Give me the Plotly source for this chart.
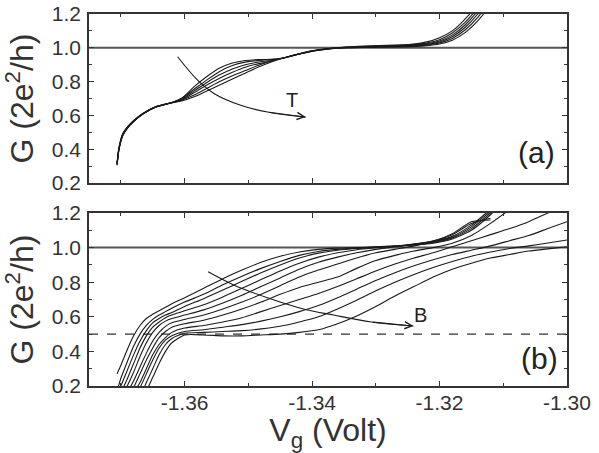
import plotly.graph_objects as go

FONT = "Liberation Sans, Arial, sans-serif"

# ---------------- data ----------------
x_range = [-1.375, -1.30]
x_tickvals = [-1.36, -1.34, -1.32, -1.30]
x_ticktext = ["-1.36", "-1.34", "-1.32", "-1.30"]
G_PLATEAU = 1.0
G_HALF = 0.5

# panel (a): temperature series
xa = [-1.3706, -1.3703, -1.3697, -1.3690, -1.3680, -1.3665, -1.3645, -1.3625,
      -1.3605, -1.3585, -1.3565, -1.3545, -1.3525, -1.3505, -1.3485, -1.3465,
      -1.3445, -1.3420, -1.3395, -1.3370, -1.3345, -1.3320, -1.3295, -1.3270,
      -1.3245, -1.3220, -1.3200, -1.3180, -1.3160, -1.3140, -1.3120]
Ga0 = [0.305, 0.395, 0.480, 0.522, 0.563, 0.609, 0.650, 0.670, 0.700, 0.770, 0.830, 0.880, 0.910, 0.925, 0.930, 0.932,
       0.940, 0.963, 0.983, 0.995, 1.000, 1.002, 1.003, 1.005, 1.007, 1.012, 1.022, 1.045, 1.090, 1.160, 1.250]
Ga1 = [0.308, 0.398, 0.483, 0.524, 0.564, 0.610, 0.650, 0.670, 0.700, 0.755, 0.810, 0.860, 0.895, 0.915, 0.925, 0.930,
       0.940, 0.963, 0.983, 0.995, 1.001, 1.003, 1.005, 1.007, 1.010, 1.016, 1.028, 1.055, 1.105, 1.180, 1.280]
Ga2 = [0.310, 0.400, 0.485, 0.525, 0.565, 0.610, 0.650, 0.670, 0.695, 0.745, 0.795, 0.840, 0.875, 0.900, 0.915, 0.925,
       0.940, 0.964, 0.984, 0.996, 1.002, 1.005, 1.007, 1.009, 1.013, 1.020, 1.034, 1.065, 1.120, 1.200, 1.310]
Ga3 = [0.312, 0.403, 0.487, 0.527, 0.566, 0.611, 0.651, 0.670, 0.690, 0.735, 0.780, 0.820, 0.855, 0.885, 0.905, 0.920,
       0.940, 0.964, 0.984, 0.996, 1.003, 1.006, 1.009, 1.012, 1.016, 1.024, 1.040, 1.075, 1.135, 1.220, 1.340]
Ga4 = [0.315, 0.406, 0.490, 0.529, 0.568, 0.612, 0.651, 0.671, 0.690, 0.720, 0.760, 0.800, 0.835, 0.865, 0.895, 0.920,
       0.940, 0.965, 0.985, 0.997, 1.004, 1.008, 1.011, 1.014, 1.018, 1.028, 1.048, 1.088, 1.150, 1.240, 1.370]
Ga5 = [0.318, 0.410, 0.493, 0.531, 0.570, 0.613, 0.652, 0.671, 0.685, 0.710, 0.745, 0.780, 0.815, 0.850, 0.885, 0.915,
       0.940, 0.965, 0.985, 0.997, 1.005, 1.010, 1.013, 1.016, 1.020, 1.035, 1.060, 1.100, 1.170, 1.260, 1.400]
Ga = [Ga0, Ga1, Ga2, Ga3, Ga4, Ga5]

# panel (b): magnetic field series
xb = [-1.3706, -1.3700, -1.3690, -1.3680, -1.3670, -1.3660, -1.3650, -1.3640,
      -1.3630, -1.3620, -1.3600, -1.3570, -1.3540, -1.3510, -1.3480, -1.3450,
      -1.3420, -1.3390, -1.3360, -1.3330, -1.3300, -1.3270, -1.3240, -1.3210,
      -1.3180, -1.3150, -1.3120, -1.3090, -1.3060, -1.3030, -1.3000]
N = None
Gb0 = [0.27, 0.32, 0.41, 0.49, 0.55, 0.59, 0.615, 0.635, 0.655, 0.675, 0.71, 0.765, 0.82, 0.87, 0.915, 0.95,
       0.975, 0.99, 0.997, 1.0, 1.005, 1.01, 1.015, 1.025, 1.05, 1.10, 1.19, 1.30, N, N, N]
Gb1 = [0.17, 0.245, 0.34, 0.43, 0.50, 0.55, 0.585, 0.61, 0.63, 0.65, 0.685, 0.73, 0.785, 0.835, 0.88, 0.92,
       0.955, 0.978, 0.99, 0.997, 1.003, 1.008, 1.015, 1.028, 1.055, 1.11, 1.20, 1.30, N, N, N]
Gb2 = [N, 0.20, 0.29, 0.38, 0.46, 0.52, 0.565, 0.59, 0.61, 0.625, 0.66, 0.705, 0.755, 0.805, 0.855, 0.90,
       0.94, 0.968, 0.985, 0.995, 1.002, 1.008, 1.017, 1.032, 1.06, 1.12, 1.21, 1.30, N, N, N]
Gb3 = [N, 0.16, 0.24, 0.33, 0.42, 0.49, 0.54, 0.57, 0.595, 0.61, 0.635, 0.67, 0.715, 0.765, 0.815, 0.865,
       0.91, 0.945, 0.97, 0.988, 0.999, 1.008, 1.02, 1.036, 1.065, 1.13, 1.22, 1.30, N, N, N]
Gb4 = [N, 0.13, 0.20, 0.28, 0.37, 0.45, 0.51, 0.55, 0.575, 0.59, 0.61, 0.64, 0.68, 0.725, 0.775, 0.825,
       0.875, 0.915, 0.945, 0.97, 0.99, 1.005, 1.02, 1.04, 1.075, 1.14, 1.17, N, N, N, N]
Gb5 = [N, N, 0.16, 0.23, 0.31, 0.39, 0.46, 0.51, 0.545, 0.565, 0.585, 0.61, 0.645, 0.685, 0.73, 0.78,
       0.83, 0.87, 0.905, 0.94, 0.97, 0.99, 1.01, 1.035, 1.08, 1.15, 1.16, N, N, N, N]
Gb6 = [N, N, 0.12, 0.19, 0.27, 0.35, 0.42, 0.48, 0.515, 0.54, 0.56, 0.58, 0.61, 0.645, 0.685, 0.73,
       0.77, 0.80, 0.83, 0.88, 0.925, 0.955, 0.98, 1.0, 1.025, 1.07, 1.14, 1.22, N, N, N]
Gb7 = [N, N, N, 0.16, 0.22, 0.30, 0.38, 0.44, 0.48, 0.51, 0.535, 0.55, 0.57, 0.595, 0.63, 0.665,
       0.70, 0.735, 0.775, 0.82, 0.865, 0.905, 0.94, 0.97, 1.005, 1.04, 1.075, 1.11, 1.15, 1.20, 1.25]
Gb8 = [N, N, N, 0.13, 0.19, 0.27, 0.35, 0.42, 0.465, 0.49, 0.515, 0.525, 0.54, 0.555, 0.575, 0.60,
       0.63, 0.665, 0.71, 0.76, 0.81, 0.855, 0.895, 0.93, 0.96, 0.985, 1.01, 1.04, 1.07, 1.11, 1.15]
Gb9 = [N, N, N, 0.09, 0.14, 0.22, 0.30, 0.38, 0.44, 0.475, 0.505, 0.51, 0.515, 0.52, 0.53, 0.545,
       0.57, 0.60, 0.645, 0.695, 0.75, 0.80, 0.845, 0.885, 0.92, 0.95, 0.975, 0.995, 1.01, 1.027, 1.044]
Gb10 = [N, N, N, 0.05, 0.10, 0.17, 0.25, 0.33, 0.40, 0.45, 0.495, 0.495, 0.49, 0.49, 0.495, 0.50,
        0.51, 0.525, 0.56, 0.605, 0.66, 0.72, 0.775, 0.83, 0.875, 0.91, 0.94, 0.96, 0.98, 0.993, 1.005]
Gb = [Gb0, Gb1, Gb2, Gb3, Gb4, Gb5, Gb6, Gb7, Gb8, Gb9, Gb10]

# guide arrows
arrowT_x = [-1.3611, -1.3580, -1.3554, -1.3512, -1.3470, -1.3410]
arrowT_y = [0.947, 0.810, 0.730, 0.660, 0.620, 0.590]
arrowB_x = [-1.3563, -1.3523, -1.3470, -1.3418, -1.3366, -1.3307, -1.3241]
arrowB_y = [0.860, 0.784, 0.710, 0.650, 0.610, 0.570, 0.547]
labelT = (-1.3431, 0.69)
labelB = (-1.3230, 0.61)

# ---------------- figure ----------------
LINE = "#1a1a1a"
AX = "#333333"
fig = go.Figure()

for g in Ga:
    fig.add_trace(go.Scatter(x=xa, y=g, mode="lines", xaxis="x", yaxis="y",
                             line=dict(color=LINE, width=1.1, shape="spline", smoothing=0.6),
                             showlegend=False, hoverinfo="skip"))
for g in Gb:
    fig.add_trace(go.Scatter(x=xb, y=g, mode="lines", xaxis="x2", yaxis="y2",
                             line=dict(color=LINE, width=1.1, shape="spline", smoothing=0.6),
                             showlegend=False, hoverinfo="skip"))

fig.add_trace(go.Scatter(x=arrowT_x, y=arrowT_y, mode="lines", xaxis="x", yaxis="y",
                         line=dict(color=LINE, width=1.1, shape="spline"),
                         showlegend=False, hoverinfo="skip"))
fig.add_trace(go.Scatter(x=arrowB_x, y=arrowB_y, mode="lines", xaxis="x2", yaxis="y2",
                         line=dict(color=LINE, width=1.1, shape="spline"),
                         showlegend=False, hoverinfo="skip"))

tickfont = dict(family=FONT, size=21, color="#333")
titlefont = dict(family=FONT, size=32, color="#333")

def xax(**kw):
    d = dict(range=x_range, tickvals=x_tickvals, ticktext=x_ticktext,
             ticks="inside", ticklen=5, tickwidth=1.3, tickcolor=AX,
             minor=dict(tickmode="linear", tick0=-1.37, dtick=0.01, ticks="inside",
                        ticklen=3, tickwidth=1.1, tickcolor=AX),
             showline=True, linecolor=AX, linewidth=1.5, mirror="ticks",
             showgrid=False, zeroline=False, tickfont=tickfont)
    d.update(kw)
    return d

def yax(**kw):
    d = dict(range=[0.2, 1.2], dtick=0.2, tick0=0.2, tickformat=".1f",
             ticks="inside", ticklen=5, tickwidth=1.3, tickcolor=AX,
             minor=dict(dtick=0.1, ticks="inside", ticklen=3, tickwidth=1.1, tickcolor=AX),
             showline=True, linecolor=AX, linewidth=1.5, mirror="ticks",
             showgrid=False, zeroline=False, tickfont=tickfont, ticklabelstandoff=2,
             title=dict(text="G (2e<sup>2</sup>/h)", font=titlefont, standoff=10))
    d.update(kw)
    return d

fig.update_layout(
    width=599, height=453,
    margin=dict(l=89, r=32, t=14, b=67, autoexpand=False),
    paper_bgcolor="white", plot_bgcolor="white",
    xaxis=xax(domain=[0, 1], anchor="y", showticklabels=False),
    yaxis=yax(domain=[0.5457, 1], anchor="x"),
    xaxis2=xax(domain=[0, 1], anchor="y2", ticklabelstandoff=-3,
               title=dict(text="V<sub>g</sub> (Volt)", font=titlefont, standoff=15)),
    yaxis2=yax(domain=[0, 0.465], anchor="x2"),
    shapes=[
        dict(type="line", xref="x domain", x0=0, x1=1, yref="y", y0=G_PLATEAU, y1=G_PLATEAU,
             line=dict(color="#555", width=2), layer="below"),
        dict(type="line", xref="x2 domain", x0=0, x1=1, yref="y2", y0=G_PLATEAU, y1=G_PLATEAU,
             line=dict(color="#555", width=2), layer="below"),
        dict(type="line", xref="x2 domain", x0=0, x1=1, yref="y2", y0=G_HALF, y1=G_HALF,
             line=dict(color="#333", width=1.3, dash="dash"), layer="below"),
    ],
    annotations=[
        dict(text="(a)", xref="x domain", yref="y domain", x=0.979, y=0.18,
             xanchor="right", yanchor="middle", showarrow=False, font=dict(family=FONT, size=30, color="#222")),
        dict(text="(b)", xref="x2 domain", yref="y2 domain", x=0.985, y=0.16,
             xanchor="right", yanchor="middle", showarrow=False, font=dict(family=FONT, size=30, color="#222")),
        dict(text="T", xref="x", yref="y", x=labelT[0], y=labelT[1], showarrow=False,
             font=dict(family=FONT, size=20, color="#222")),
        dict(text="B", xref="x2", yref="y2", x=labelB[0], y=labelB[1], showarrow=False,
             font=dict(family=FONT, size=20, color="#222")),
        dict(text="", xref="x", yref="y", axref="x", ayref="y",
             x=arrowT_x[-1], y=arrowT_y[-1], ax=arrowT_x[-2], ay=arrowT_y[-2],
             showarrow=True, arrowhead=5, arrowsize=1.3, arrowwidth=1.1, arrowcolor=LINE),
        dict(text="", xref="x2", yref="y2", axref="x2", ayref="y2",
             x=arrowB_x[-1], y=arrowB_y[-1], ax=arrowB_x[-2], ay=arrowB_y[-2],
             showarrow=True, arrowhead=5, arrowsize=1.3, arrowwidth=1.1, arrowcolor=LINE),
    ],
)

fig.write_html("out.html")
